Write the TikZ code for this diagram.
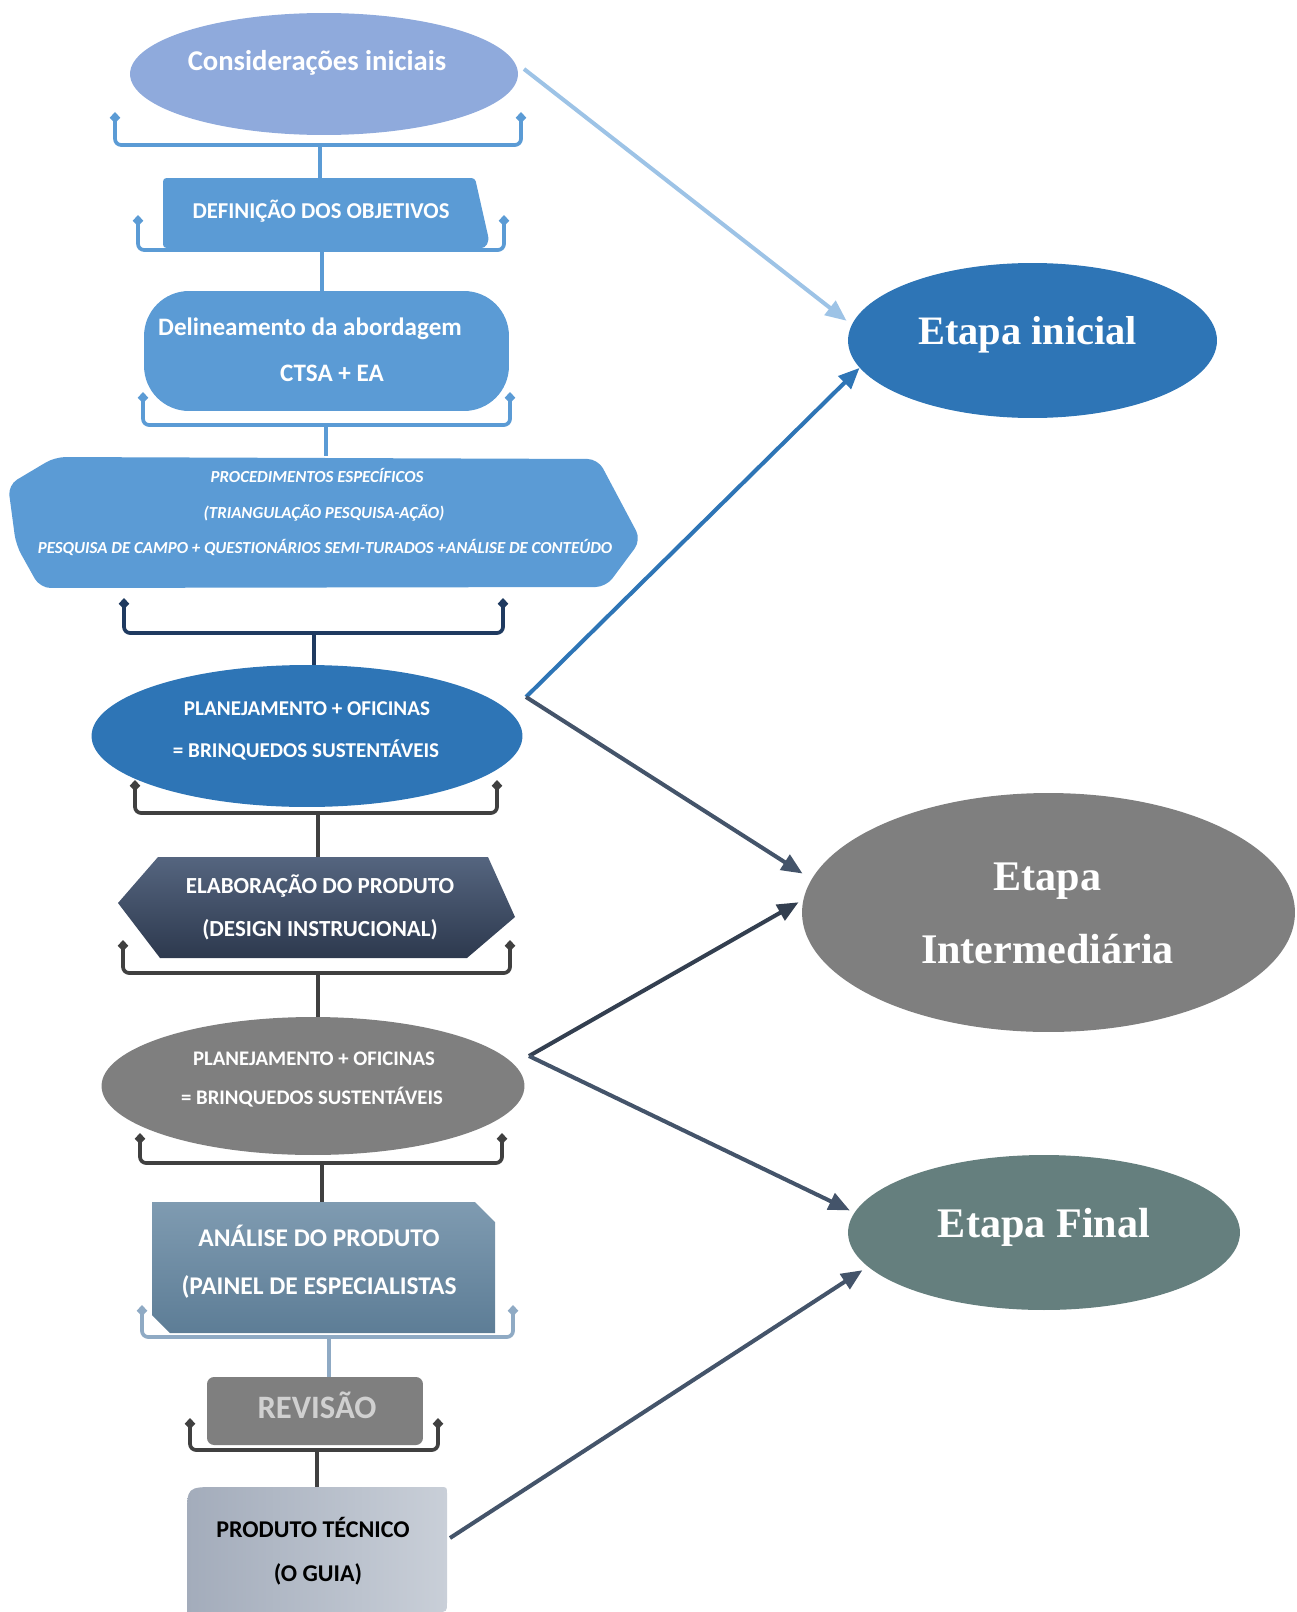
\documentclass[tikz,border=0pt]{standalone}
\usepackage{fontspec}
\setmainfont{Liberation Serif}
\newfontfamily\carl{Carlito}
\usetikzlibrary{arrows.meta,shapes.geometric}
\definecolor{cConsid}{HTML}{8FAADC}
\definecolor{cMid}{HTML}{5B9BD5}
\definecolor{cDark}{HTML}{2E75B6}
\definecolor{cGray}{HTML}{7F7F7F}
\definecolor{cNavy}{HTML}{1F3A60}
\definecolor{cBrk}{HTML}{404040}
\definecolor{cLight}{HTML}{8FAAC4}
\definecolor{cFinal}{HTML}{657F7E}
\definecolor{cArLight}{HTML}{9DC3E6}
\definecolor{cSlate}{HTML}{44546A}
\definecolor{cSlateD}{HTML}{333F50}
\definecolor{cElabT}{HTML}{55657F}
\definecolor{cElabB}{HTML}{2D394E}
\definecolor{cAnT}{HTML}{7F9BB1}
\definecolor{cAnB}{HTML}{5D7D96}
\definecolor{cProdL}{HTML}{A3ACBB}
\definecolor{cProdR}{HTML}{C9CFD8}
\definecolor{cRevT}{HTML}{D0D0D0}
\begin{document}
\begin{tikzpicture}[x=0.02cm, y=-0.02cm,
  lt/.style={inner sep=0pt, anchor=base, text=white},
  el/.style={ellipse, inner sep=0pt},
  anc/.style={rectangle, inner sep=0pt},
  brk/.style={line width=2.1pt, rounded corners=3.5pt, {Diamond[length=6.5pt,width=6pt]}-{Diamond[length=6.5pt,width=6pt]}},
  stemline/.style={line width=2.1pt},
  arr/.style={line width=2.3pt, -{Triangle[length=12pt,width=10pt]}}]
\useasboundingbox (0,0) rectangle (1297,1612);

% ---------- left flow shapes ----------
\node[el, fill=cConsid, minimum width=7.76cm, minimum height=2.44cm] (cons) at (324,74) {};

\fill[cMid, rounded corners=2pt] (163,178) -- (475,178) -- (489,240) -- (485,248) -- (163,248) -- cycle;
\node[anc, minimum width=6.5cm, minimum height=1.4cm] (def) at (325.5,213) {};

\node[anc, fill=cMid, rounded corners=0.9cm, minimum width=7.3cm, minimum height=2.4cm] (delin) at (326.5,351) {};

\fill[cMid, rounded corners=6pt] (55,457) -- (598,459) -- (641,540) -- (606,587) -- (40,588) -- (16,545) -- (8,485) -- cycle;
\node[anc, minimum width=12.6cm, minimum height=2.62cm] (proc) at (325,522) {};

\node[el, fill=cDark, minimum width=8.62cm, minimum height=2.84cm] (plan1) at (307,736) {};

\shade[top color=cElabT, bottom color=cElabB] (158,857) -- (488,857) -- (515,917) -- (467,958) -- (160,958) -- (118,903) -- cycle;
\node[anc, minimum width=7.94cm, minimum height=2.02cm] (elab) at (316.5,907.5) {};

\node[el, fill=cGray, minimum width=8.46cm, minimum height=2.76cm] (plan2) at (313,1086) {};

\shade[top color=cAnT, bottom color=cAnB] (152,1202) -- (475,1202) -- (495,1222) -- (495,1333) -- (170,1333) -- (152,1315) -- cycle;
\node[anc, minimum width=6.86cm, minimum height=2.62cm] (anal) at (323.5,1267.5) {};

\node[anc, fill=cGray, rounded corners=4pt, minimum width=4.32cm, minimum height=1.36cm] (rev) at (315,1411) {};

\shade[left color=cProdL, right color=cProdR] (187,1612) -- (187,1517) .. controls (187,1487) .. (217,1487) -- (440,1487) .. controls (447,1487) .. (447,1494) -- (447,1602) .. controls (447,1612) .. (437,1612) -- cycle;
\node[anc, minimum width=5.2cm, minimum height=2.5cm] (prod) at (317,1549.5) {};

% ---------- brackets and stems ----------
\draw[brk, cMid] (115,112) -- (115,145) -- (521,145) -- (521,112);
\coordinate (b1) at (320,145);
\draw[stemline, cMid] (b1) -- (b1 |- def.north);

\draw[brk, cMid] (138,215) -- (138,250) -- (504,250) -- (504,215);
\coordinate (b2) at (322,250);
\draw[stemline, cMid] (b2) -- (b2 |- delin.north);

\draw[brk, cMid] (143,392) -- (143,425) -- (510,425) -- (510,392);
\coordinate (b3) at (326,425);
\draw[stemline, cMid] (b3) -- (b3 |- proc.north);

\draw[brk, cNavy] (124,598) -- (124,633) -- (503,633) -- (503,598);
\coordinate (b4) at (314,633);
\draw[stemline, cNavy] (b4) -- (b4 |- plan1.north);

\draw[brk, cBrk] (135,780) -- (135,813) -- (497,813) -- (497,780);
\coordinate (b5) at (318,813);
\draw[stemline, cBrk] (b5) -- (b5 |- elab.north);

\draw[brk, cBrk] (123,940) -- (123,973) -- (510,973) -- (510,940);
\coordinate (b6) at (318,973);
\draw[stemline, cBrk] (b6) -- (b6 |- plan2.north);

\draw[brk, cBrk] (140,1133) -- (140,1163) -- (502,1163) -- (502,1133);
\coordinate (b7) at (322,1163);
\draw[stemline, cBrk] (b7) -- (b7 |- anal.north);

\draw[brk, cLight] (142,1305) -- (142,1337) -- (513,1337) -- (513,1305);
\coordinate (b8) at (329,1337);
\draw[stemline, cLight] (b8) -- (b8 |- rev.north);

\draw[brk, cBrk] (190,1418) -- (190,1450) -- (438,1450) -- (438,1418);
\coordinate (b9) at (317,1450);
\draw[stemline, cBrk] (b9) -- (b9 |- prod.north);

% ---------- left texts ----------
\node[lt, font=\carl\bfseries\fontsize{16.3}{19}\selectfont] (t1) at (317,71) {Considerações iniciais};
\node[lt, font=\carl\bfseries\fontsize{12.9}{15}\selectfont] (t2) at (321,218) {DEFINIÇÃO DOS OBJETIVOS};
\node[lt, font=\carl\bfseries\fontsize{14.3}{17}\selectfont] (t3) at (310,335) {Delineamento da abordagem};
\node[lt, font=\carl\bfseries\fontsize{14.3}{17}\selectfont] (t4) at (332,381) {CTSA + EA};
\node[lt, font=\carl\bfseries\itshape\fontsize{9.6}{11}\selectfont] (t5) at (317,482) {PROCEDIMENTOS ESPECÍFICOS};
\node[lt, font=\carl\bfseries\itshape\fontsize{9.6}{11}\selectfont] (t6) at (324,518) {(TRIANGULAÇÃO PESQUISA-AÇÃO)};
\node[lt, font=\carl\bfseries\itshape\fontsize{9.6}{11}\selectfont] (t7) at (325,553) {PESQUISA DE CAMPO + QUESTIONÁRIOS SEMI-TURADOS +ANÁLISE DE CONTEÚDO};
\node[lt, font=\carl\bfseries\fontsize{12}{14}\selectfont] (t8) at (307,715) {PLANEJAMENTO + OFICINAS};
\node[lt, font=\carl\bfseries\fontsize{12}{14}\selectfont] (t9) at (306,757) {= BRINQUEDOS SUSTENTÁVEIS};
\node[lt, font=\carl\bfseries\fontsize{13.1}{15}\selectfont] (t10) at (320,893) {ELABORAÇÃO DO PRODUTO};
\node[lt, font=\carl\bfseries\fontsize{13.1}{15}\selectfont] (t11) at (320,936) {(DESIGN INSTRUCIONAL)};
\node[lt, font=\carl\bfseries\fontsize{11.8}{14}\selectfont] (t12) at (314,1065) {PLANEJAMENTO + OFICINAS};
\node[lt, font=\carl\bfseries\fontsize{11.8}{14}\selectfont] (t13) at (312,1104) {= BRINQUEDOS SUSTENTÁVEIS};
\node[lt, font=\carl\bfseries\fontsize{14.5}{17}\selectfont] (t14) at (319,1246) {ANÁLISE DO PRODUTO};
\node[lt, font=\carl\bfseries\fontsize{14.5}{17}\selectfont] (t15) at (319,1294) {(PAINEL DE ESPECIALISTAS};
\node[lt, text=cRevT, font=\carl\bfseries\fontsize{18.6}{22}\selectfont] (t16) at (317,1418) {REVISÃO};
\node[lt, text=black, font=\carl\bfseries\fontsize{13.7}{16}\selectfont] (t17) at (313,1537) {PRODUTO TÉCNICO};
\node[lt, text=black, font=\carl\bfseries\fontsize{13.7}{16}\selectfont] (t18) at (318,1581) {(O GUIA)};

% ---------- right ellipses ----------
\node[el, fill=cDark, minimum width=7.38cm, minimum height=3.1cm] (ini) at (1032.5,340.5) {};
\node[el, fill=cGray, minimum width=9.86cm, minimum height=4.78cm] (inter) at (1048.5,912.5) {};
\node[el, fill=cFinal, minimum width=7.84cm, minimum height=3.1cm] (fin) at (1044,1232.5) {};
\node[lt, font=\bfseries\fontsize{23}{27}\selectfont] (r1) at (1027.5,344) {Etapa inicial};
\node[lt, font=\bfseries\fontsize{24}{28}\selectfont] (r2) at (1047.5,890) {Etapa};
\node[lt, font=\bfseries\fontsize{24}{28}\selectfont] (r3) at (1047.5,963) {Intermediária};
\node[lt, font=\bfseries\fontsize{24}{28}\selectfont] (r4) at (1044,1237) {Etapa Final};

% ---------- arrows ----------
\coordinate (s1) at (524,69);
\coordinate (fork1) at (526,697);
\coordinate (fork2) at (529,1056);
\coordinate (s6) at (450,1538);
\draw[arr, cArLight, shorten >=3.6pt] (s1) -- (ini.175.3);
\draw[arr, cDark] (fork1) -- (ini.189.8);
\draw[arr, cSlate, shorten >=6pt] (fork1) -- (inter.172.55);
\draw[arr, cSlateD, shorten >=3pt] (fork2) -- (inter.177.14);
\draw[arr, cSlate, shorten >=2.8pt] (fork2) -- (fin.174.9);
\draw[arr, cSlate, shorten >=3.6pt] (s6) -- (fin.191);
\end{tikzpicture}
\end{document}
